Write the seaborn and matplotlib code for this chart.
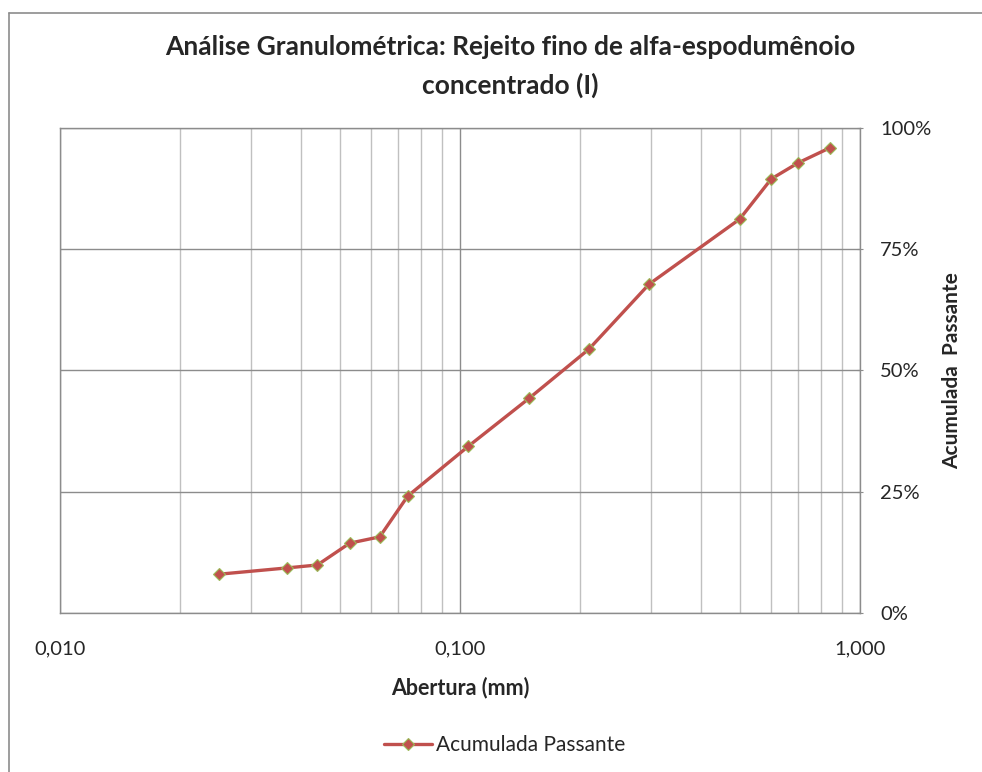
import numpy as np
import pandas as pd
import matplotlib
matplotlib.use("Agg")
import matplotlib.pyplot as plt
import matplotlib.ticker as mticker
from matplotlib.lines import Line2D
import seaborn as sns

# Abertura (mm) and cumulative passing fraction
abertura = [0.025, 0.037, 0.044, 0.053, 0.063, 0.074, 0.105, 0.149,
            0.210, 0.297, 0.500, 0.600, 0.700, 0.840]
passante = [0.080, 0.093, 0.099, 0.144, 0.157, 0.241, 0.344, 0.443,
            0.544, 0.678, 0.812, 0.895, 0.928, 0.959]

series_label = "Acumulada Passante"
title = "Análise Granulométrica: Rejeito fino de alfa-espodumênoio\nconcentrado (I)"


def main():
    sns.set_style("white")
    plt.rcParams["font.family"] = ["Lato", "DejaVu Sans"]

    df = pd.DataFrame({"abertura": abertura, "passante": passante})

    fig = plt.figure(figsize=(9.82, 7.72), dpi=100)
    ax = fig.add_axes([60 / 982, 159 / 772, 800 / 982, 485 / 772])

    sns.lineplot(data=df, x="abertura", y="passante", ax=ax,
                 color="#C0504D", linewidth=2.4, marker="D", markersize=6,
                 markerfacecolor="#C0504D", markeredgecolor="#9BBB59",
                 markeredgewidth=0.8, label=series_label)

    ax.set_xscale("log")
    ax.set_xlim(0.01, 1.0)
    ax.set_ylim(0, 1)

    ax.xaxis.set_major_locator(mticker.FixedLocator([0.01, 0.1, 1.0]))
    ax.xaxis.set_major_formatter(mticker.FuncFormatter(
        lambda v, p: f"{v:.3f}".replace(".", ",")))
    ax.xaxis.set_minor_locator(mticker.LogLocator(base=10, subs=np.arange(2, 10)))
    ax.xaxis.set_minor_formatter(mticker.NullFormatter())

    ax.yaxis.tick_right()
    ax.yaxis.set_label_position("right")
    ax.set_yticks([0, 0.25, 0.5, 0.75, 1.0])
    ax.yaxis.set_major_formatter(mticker.FuncFormatter(lambda v, p: f"{v*100:.0f}%"))

    ax.grid(True, which="major", axis="both", color="#8C8C8C", linewidth=1.0)
    ax.grid(True, which="minor", axis="x", color="#C0C0C0", linewidth=1.0)
    ax.set_axisbelow(True)

    for side in ["top", "left", "right", "bottom"]:
        ax.spines[side].set_visible(True)
        ax.spines[side].set_color("#8C8C8C")
        ax.spines[side].set_linewidth(1.0)

    ax.tick_params(axis="y", which="major", right=True, length=5, color="#8C8C8C",
                   labelsize=14.5, pad=12, direction="inout")
    ax.tick_params(axis="x", which="major", bottom=False, labelsize=14.5, pad=16)
    ax.tick_params(axis="x", which="minor", bottom=False)

    ax.set_xlabel("Abertura (mm)", fontsize=15.5, fontweight="bold", labelpad=14)
    ax.set_ylabel("Acumulada  Passante", fontsize=15, fontweight="bold",
                  rotation=90, labelpad=8)

    fig.text(0.52, 1 - 47 / 772, title.split("\n")[0], ha="center", va="center",
             fontsize=19, fontweight="bold")
    fig.text(0.52, 1 - 85 / 772, title.split("\n")[1], ha="center", va="center",
             fontsize=19, fontweight="bold")

    ax.legend(loc="center", bbox_to_anchor=(0.556, -(745 - 613) / 485), frameon=False,
              fontsize=15, handlelength=2.3, handletextpad=0.2)

    # chart area border (left and top edges visible)
    fig.add_artist(Line2D([9 / 982, 9 / 982], [0, 1 - 13 / 772], transform=fig.transFigure,
                          color="#8C8C8C", linewidth=1.2))
    fig.add_artist(Line2D([9 / 982, 1], [1 - 13 / 772, 1 - 13 / 772], transform=fig.transFigure,
                          color="#8C8C8C", linewidth=1.2))

    fig.savefig("out.png", dpi=100)
    plt.close(fig)


if __name__ == "__main__":
    main()
